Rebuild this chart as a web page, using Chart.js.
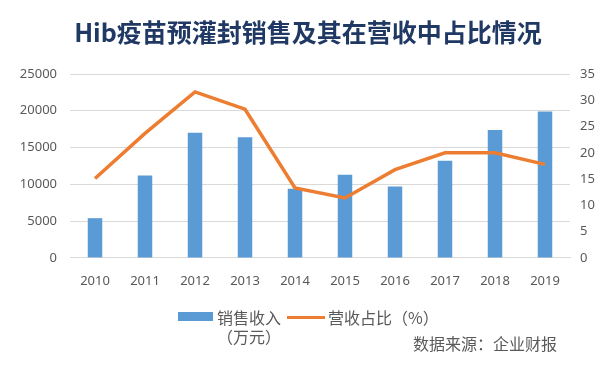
<!DOCTYPE html>
<html>
<head>
<meta charset="utf-8">
<script src="https://cdn.jsdelivr.net/npm/chart.js@4"></script>
<style>
  body { margin: 0; background: #fff; }
  #wrap { position: relative; width: 616px; height: 371px; }
  #myChart { position: absolute; left: 0; top: 0; }
  .lg { position: absolute; font-family: "Noto Sans CJK SC", sans-serif; font-size: 16px; color: #595959; line-height: 19px; }
</style>
</head>
<body>
<div id="wrap">
  <canvas id="myChart" width="616" height="371"></canvas>
  <div class="lg" style="left:178px;top:312px;width:35px;height:9px;background:#5b9bd5"></div>
  <div class="lg" style="left:217px;top:308px">销售收入<br>（万元）</div>
  <div class="lg" style="left:287px;top:316px;width:38px;height:3px;background:#ed7d31"></div>
  <div class="lg" style="left:328px;top:308px">营收占比（%）</div>
  <div class="lg" style="left:413px;top:334px">数据来源：企业财报</div>
</div>
<script>
const years = ['2010', '2011', '2012', '2013', '2014', '2015', '2016', '2017', '2018', '2019'];
const sales = [5400, 11200, 17000, 16400, 9400, 11300, 9700, 13200, 17400, 19900];
const share = [15.1, 23.7, 31.6, 28.3, 13.3, 11.4, 16.8, 20.0, 20.0, 17.8];

const tickFont = { family: 'Noto Sans', size: 13 };
const grey = '#595959';

const ctx = document.getElementById('myChart').getContext('2d');
const myChart = new Chart(ctx, {
    data: {
        labels: years,
        datasets: [{
            type: 'line',
            label: '营收占比（%）',
            data: share,
            yAxisID: 'y1',
            borderColor: '#ed7d31',
            borderWidth: 3.5,
            pointRadius: 0,
            tension: 0,
            order: 0
        }, {
            type: 'bar',
            label: '销售收入（万元）',
            data: sales,
            yAxisID: 'y',
            backgroundColor: '#5b9bd5',
            barPercentage: 0.29,
            categoryPercentage: 1,
            order: 1
        }]
    },
    options: {
        responsive: false,
        animation: false,
        layout: { padding: { left: 0, right: 0, top: 0, bottom: 73.5 } },
        plugins: {
            legend: { display: false },
            tooltip: { enabled: false },
            title: {
                display: true,
                text: 'Hib疫苗预灌封销售及其在营收中占比情况',
                color: '#1f3864',
                font: { family: 'Noto Sans CJK SC', size: 25, weight: 'bold' },
                padding: { top: 17, bottom: 27 }
            }
        },
        scales: {
            x: {
                grid: { display: false },
                border: { color: '#d9d9d9' },
                ticks: { color: grey, font: tickFont, padding: 8 }
            },
            y: {
                position: 'left',
                min: 0, max: 25000,
                afterFit: s => { s.width = 70; },
                ticks: { stepSize: 5000, color: grey, font: tickFont, padding: 13,
                         callback: v => String(v) },
                grid: { color: '#d9d9d9', drawTicks: false },
                border: { display: false }
            },
            y1: {
                position: 'right',
                min: 0, max: 35,
                afterFit: s => { s.width = 46; },
                ticks: { stepSize: 5, color: grey, font: tickFont, padding: 10 },
                grid: { display: false, drawTicks: false },
                border: { display: false }
            }
        }
    }
});
</script>
</body>
</html>
